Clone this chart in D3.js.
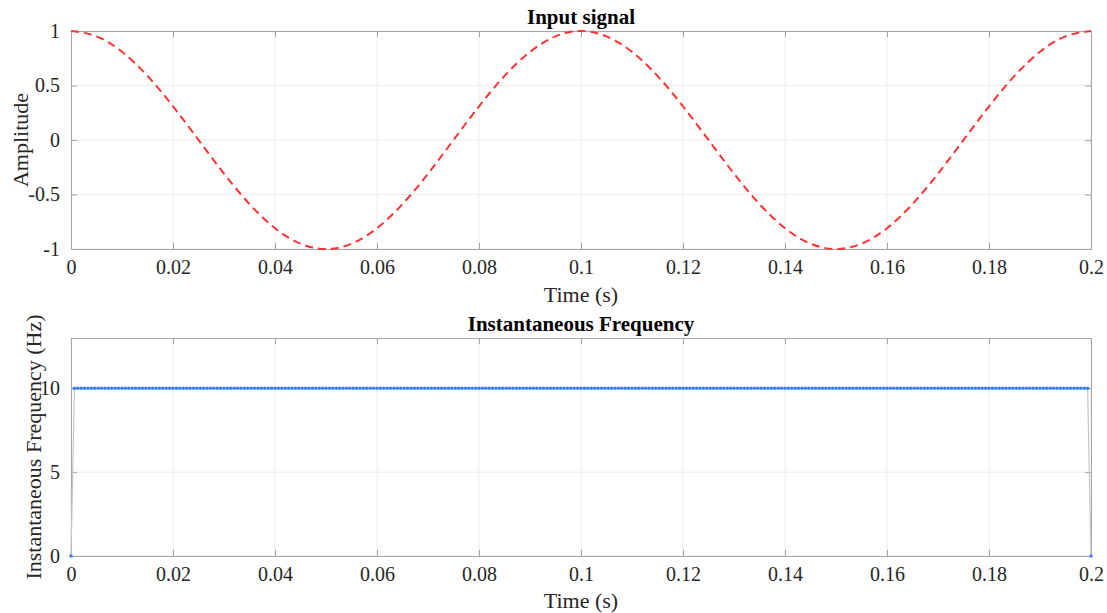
<!DOCTYPE html>
<html>
<head>
<meta charset="utf-8">
<script src="https://cdn.jsdelivr.net/npm/d3@7"></script>
<style>
  body { margin: 0; background: #fff; }
  svg { display: block; font-family: "Liberation Serif", "Times New Roman", serif; }
</style>
</head>
<body>
<svg id="chart" width="1107" height="613"></svg>
<script>
// input signal, sampled every 5 ms
const signalTime = [0,0.005,0.01,0.015,0.02,0.025,0.03,0.035,0.04,0.045,
  0.05,0.055,0.06,0.065,0.07,0.075,0.08,0.085,0.09,0.095,
  0.1,0.105,0.11,0.115,0.12,0.125,0.13,0.135,0.14,0.145,
  0.15,0.155,0.16,0.165,0.17,0.175,0.18,0.185,0.19,0.195,0.2]
const signalAmp = [1,0.951,0.809,0.588,0.309,0,-0.309,-0.588,-0.809,-0.951,
  -1,-0.951,-0.809,-0.588,-0.309,0,0.309,0.588,0.809,0.951,
  1,0.951,0.809,0.588,0.309,0,-0.309,-0.588,-0.809,-0.951,
  -1,-0.951,-0.809,-0.588,-0.309,0,0.309,0.588,0.809,0.951,1]

// instantaneous frequency samples (time in ms)
const freqTimeMs = [
  0,0.667,1.333,2,2.667,3.333,4,4.667,5.333,6,6.667,7.333,8,8.667,9.333,
  10,10.667,11.333,12,12.667,13.333,14,14.667,15.333,16,16.667,17.333,18,18.667,19.333,
  20,20.667,21.333,22,22.667,23.333,24,24.667,25.333,26,26.667,27.333,28,28.667,29.333,
  30,30.667,31.333,32,32.667,33.333,34,34.667,35.333,36,36.667,37.333,38,38.667,39.333,
  40,40.667,41.333,42,42.667,43.333,44,44.667,45.333,46,46.667,47.333,48,48.667,49.333,
  50,50.667,51.333,52,52.667,53.333,54,54.667,55.333,56,56.667,57.333,58,58.667,59.333,
  60,60.667,61.333,62,62.667,63.333,64,64.667,65.333,66,66.667,67.333,68,68.667,69.333,
  70,70.667,71.333,72,72.667,73.333,74,74.667,75.333,76,76.667,77.333,78,78.667,79.333,
  80,80.667,81.333,82,82.667,83.333,84,84.667,85.333,86,86.667,87.333,88,88.667,89.333,
  90,90.667,91.333,92,92.667,93.333,94,94.667,95.333,96,96.667,97.333,98,98.667,99.333,
  100,100.667,101.333,102,102.667,103.333,104,104.667,105.333,106,106.667,107.333,108,108.667,109.333,
  110,110.667,111.333,112,112.667,113.333,114,114.667,115.333,116,116.667,117.333,118,118.667,119.333,
  120,120.667,121.333,122,122.667,123.333,124,124.667,125.333,126,126.667,127.333,128,128.667,129.333,
  130,130.667,131.333,132,132.667,133.333,134,134.667,135.333,136,136.667,137.333,138,138.667,139.333,
  140,140.667,141.333,142,142.667,143.333,144,144.667,145.333,146,146.667,147.333,148,148.667,149.333,
  150,150.667,151.333,152,152.667,153.333,154,154.667,155.333,156,156.667,157.333,158,158.667,159.333,
  160,160.667,161.333,162,162.667,163.333,164,164.667,165.333,166,166.667,167.333,168,168.667,169.333,
  170,170.667,171.333,172,172.667,173.333,174,174.667,175.333,176,176.667,177.333,178,178.667,179.333,
  180,180.667,181.333,182,182.667,183.333,184,184.667,185.333,186,186.667,187.333,188,188.667,189.333,
  190,190.667,191.333,192,192.667,193.333,194,194.667,195.333,196,196.667,197.333,198,198.667,199.333,
  200]
const freqHz = [
  0,10,10,10,10,10,10,10,10,10,10,10,10,10,10,
  10,10,10,10,10,10,10,10,10,10,10,10,10,10,10,
  10,10,10,10,10,10,10,10,10,10,10,10,10,10,10,
  10,10,10,10,10,10,10,10,10,10,10,10,10,10,10,
  10,10,10,10,10,10,10,10,10,10,10,10,10,10,10,
  10,10,10,10,10,10,10,10,10,10,10,10,10,10,10,
  10,10,10,10,10,10,10,10,10,10,10,10,10,10,10,
  10,10,10,10,10,10,10,10,10,10,10,10,10,10,10,
  10,10,10,10,10,10,10,10,10,10,10,10,10,10,10,
  10,10,10,10,10,10,10,10,10,10,10,10,10,10,10,
  10,10,10,10,10,10,10,10,10,10,10,10,10,10,10,
  10,10,10,10,10,10,10,10,10,10,10,10,10,10,10,
  10,10,10,10,10,10,10,10,10,10,10,10,10,10,10,
  10,10,10,10,10,10,10,10,10,10,10,10,10,10,10,
  10,10,10,10,10,10,10,10,10,10,10,10,10,10,10,
  10,10,10,10,10,10,10,10,10,10,10,10,10,10,10,
  10,10,10,10,10,10,10,10,10,10,10,10,10,10,10,
  10,10,10,10,10,10,10,10,10,10,10,10,10,10,10,
  10,10,10,10,10,10,10,10,10,10,10,10,10,10,10,
  10,10,10,10,10,10,10,10,10,10,10,10,10,10,10,
  0]

const xTicks = [0,0.02,0.04,0.06,0.08,0.1,0.12,0.14,0.16,0.18,0.2]
const ampTicks = [-1,-0.5,0,0.5,1]
const freqTicks = [0,5,10]

const svg = d3.select("#chart")
const left = 71, right = 1091

// draws axes box, grid and labels for one subplot
const panel = (top, bottom, yDomain, yTicks, title, yLabel, opts) => {
    const x = d3.scaleLinear().domain([0, 0.2]).range([left, right])
    const y = d3.scaleLinear().domain(yDomain).range([bottom, top])
    const g = svg.append("g")

    // grid
    g.selectAll(".vg").data(xTicks).join("line")
        .attr("x1", d => x(d)).attr("x2", d => x(d))
        .attr("y1", top).attr("y2", bottom)
        .attr("stroke", "#ebebeb").attr("stroke-width", 1)
    g.selectAll(".hg").data(yTicks).join("line")
        .attr("x1", left).attr("x2", right)
        .attr("y1", d => y(d)).attr("y2", d => y(d))
        .attr("stroke", "#ebebeb").attr("stroke-width", 1)

    // matlab style: plain hyphen for negatives
    const fmt = d => String(+d.toFixed(2))
    const axisColor = "#a6a6a6"

    const styleAxis = sel => {
        sel.select(".domain").attr("stroke", axisColor)
        sel.selectAll(".tick line").attr("stroke", axisColor)
        sel.selectAll(".tick text").attr("fill", "#262626")
            .style("font-size", "20px").style("font-family", "Liberation Serif")
    }

    g.append("g").attr("transform", `translate(0,${bottom})`)
        .call(d3.axisBottom(x).tickValues(xTicks).tickFormat(fmt).tickSizeInner(-6).tickSizeOuter(0).tickPadding(11))
        .call(styleAxis)
    g.append("g").attr("transform", `translate(0,${top})`)
        .call(d3.axisTop(x).tickValues(xTicks).tickFormat("").tickSizeInner(-6).tickSizeOuter(0))
        .call(styleAxis)
    g.append("g").attr("transform", `translate(${left},0)`)
        .call(d3.axisLeft(y).tickValues(yTicks).tickFormat(fmt).tickSizeInner(-6).tickSizeOuter(0).tickPadding(11))
        .call(styleAxis)
    g.append("g").attr("transform", `translate(${right},0)`)
        .call(d3.axisRight(y).tickValues(yTicks).tickFormat("").tickSizeInner(-6).tickSizeOuter(0))
        .call(styleAxis)

    g.append("text").attr("x", (left + right) / 2).attr("y", opts.titleY)
        .attr("text-anchor", "middle").attr("font-weight", "bold")
        .style("font-size", "21px").attr("fill", "#000").text(title)
    g.append("text").attr("x", (left + right) / 2).attr("y", opts.xLabelY)
        .attr("text-anchor", "middle").style("font-size", "22px")
        .attr("fill", "#262626").text("Time (s)")
    g.append("text")
        .attr("transform", `translate(${opts.yLabelX},${(top + bottom) / 2}) rotate(-90)`)
        .attr("text-anchor", "middle").style("font-size", opts.yLabelSize)
        .attr("fill", "#262626").text(yLabel)

    return { x, y, g }
}

// top: input signal
const p1 = panel(31, 249, [-1, 1], ampTicks, "Input signal", "Amplitude",
    { xLabelY: 302, titleY: 24, yLabelX: 28, yLabelSize: "22px" })
const sig = signalTime.map((t, i) => ({ t, v: signalAmp[i] }))
p1.g.append("path").datum(sig)
    .attr("fill", "none").attr("stroke", "#ff3333").attr("stroke-width", 2)
    .attr("stroke-dasharray", "8,5")
    .attr("d", d3.line().x(d => p1.x(d.t)).y(d => p1.y(d.v)).curve(d3.curveNatural))

// bottom: instantaneous frequency
const p2 = panel(338, 556, [0, 13], freqTicks, "Instantaneous Frequency", "Instantaneous Frequency (Hz)",
    { xLabelY: 608, titleY: 331, yLabelX: 41, yLabelSize: "22px" })
const fr = freqTimeMs.map((t, i) => ({ t: t / 1000, v: freqHz[i] }))
p2.g.append("path").datum(fr)
    .attr("fill", "none").attr("stroke", "#c4c4c4").attr("stroke-width", 1.2)
    .attr("d", d3.line().x(d => p2.x(d.t)).y(d => p2.y(d.v)))
p2.g.selectAll(".dot").data(fr).join("circle")
    .attr("cx", d => p2.x(d.t)).attr("cy", d => p2.y(d.v))
    .attr("r", 1.8).attr("fill", "#3a80f5")
</script>
</body>
</html>
